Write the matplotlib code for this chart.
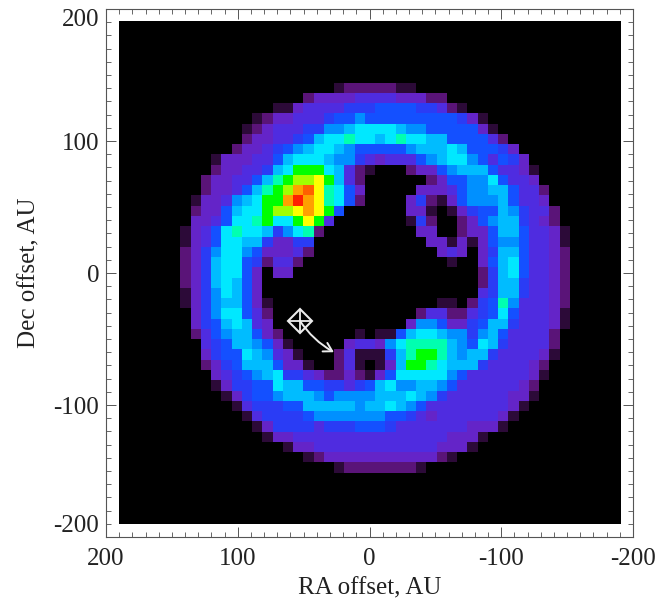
import numpy as np
import matplotlib
matplotlib.use("Agg")
import matplotlib.pyplot as plt
from matplotlib.colors import ListedColormap
from matplotlib.ticker import MultipleLocator

plt.rcParams['font.family'] = ['Liberation Serif', 'DejaVu Serif']

# intensity level of each map cell (rows 6-43 of the 49x49 map)
# left part is columns 6-24, right part columns 25-43
left_cells = [
    [0,0,0,0,0,0,0,0,0,0,0,0,0,0,0,1,2,2,2],
    [0,0,0,0,0,0,0,0,0,0,0,0,2,3,3,3,3,4,4],
    [0,0,0,0,0,0,0,0,0,1,1,3,4,4,4,4,5,5,5],
    [0,0,0,0,0,0,0,1,2,3,3,4,4,4,5,6,6,7,6],
    [0,0,0,0,0,0,1,2,3,4,4,4,5,5,7,7,8,9,9],
    [0,0,0,0,0,0,2,3,3,4,4,5,6,8,9,9,10,9,9],
    [0,0,0,0,0,2,3,3,4,5,6,7,8,9,9,8,7,6,6],
    [0,0,0,1,3,3,3,4,4,6,8,9,9,9,8,7,7,5,4],
    [0,0,0,2,3,3,4,4,5,8,9,11,11,11,9,8,4,2,1],
    [0,0,2,3,3,4,4,6,8,10,11,12,12,13,11,8,4,2,0],
    [0,0,2,3,3,4,6,8,10,11,12,14,15,13,10,9,6,3,0],
    [0,1,3,3,4,7,8,9,11,11,14,16,14,13,10,9,6,2,0],
    [0,2,3,3,6,8,9,9,11,12,12,13,14,13,11,6,0,0,0],
    [0,3,3,4,6,9,9,10,11,9,9,11,13,11,4,0,0,0,0],
    [1,3,4,6,9,10,9,9,8,5,7,9,10,2,0,0,0,0,0],
    [1,3,4,6,9,9,8,8,5,3,3,5,5,0,0,0,0,0,0],
    [2,3,5,7,9,9,7,6,3,3,3,4,2,0,0,0,0,0,0],
    [2,3,5,8,9,9,6,5,2,4,4,2,0,0,0,0,0,0,0],
    [2,3,5,8,9,9,6,3,0,3,3,0,0,0,0,0,0,0,0],
    [2,3,5,8,9,8,6,3,0,0,0,0,0,0,0,0,0,0,0],
    [1,3,5,7,9,8,6,3,0,0,0,0,0,0,0,0,0,0,0],
    [1,3,5,7,8,8,6,3,1,0,0,0,0,0,0,0,0,0,0],
    [0,3,5,7,9,9,6,4,2,0,0,0,0,0,0,0,0,0,0],
    [0,3,5,6,8,9,8,4,3,0,0,0,0,0,0,0,0,0,0],
    [0,2,4,6,7,8,8,6,3,2,0,0,0,0,0,0,0,1,0],
    [0,0,4,5,6,8,8,7,6,3,1,0,0,0,0,0,3,4,4],
    [0,0,3,5,6,6,9,8,7,4,3,1,0,0,0,2,4,1,1],
    [0,0,2,3,5,6,8,8,8,6,3,3,1,0,0,2,4,1,0],
    [0,0,0,3,4,5,6,7,8,9,5,5,4,3,2,2,3,2,1],
    [0,0,0,1,3,5,5,6,6,9,8,8,6,6,5,5,4,5,6],
    [0,0,0,0,1,3,5,6,6,7,8,8,8,7,6,7,7,7,7],
    [0,0,0,0,0,1,4,5,5,5,6,6,8,8,8,8,8,7,8],
    [0,0,0,0,0,0,1,4,5,5,5,5,6,7,7,7,7,7,7],
    [0,0,0,0,0,0,0,1,3,5,5,5,5,4,5,5,5,6,6],
    [0,0,0,0,0,0,0,0,1,3,3,4,4,4,4,4,4,4,4],
    [0,0,0,0,0,0,0,0,0,0,1,3,3,4,4,4,4,4,4],
    [0,0,0,0,0,0,0,0,0,0,0,0,1,2,3,3,3,3,3],
    [0,0,0,0,0,0,0,0,0,0,0,0,0,0,0,1,2,2,2],
]
right_cells = [
    [2,2,1,1,0,0,0,0,0,0,0,0,0,0,0,0,0,0,0],
    [4,4,3,3,3,2,2,0,0,0,0,0,0,0,0,0,0,0,0],
    [6,6,6,6,5,5,4,2,1,0,0,0,0,0,0,0,0,0,0],
    [6,6,6,6,6,6,6,6,5,3,1,0,0,0,0,0,0,0,0],
    [9,9,8,7,7,6,6,6,6,6,3,1,0,0,0,0,0,0,0],
    [8,9,10,9,9,8,8,6,6,6,6,4,2,0,0,0,0,0,0],
    [6,6,6,7,8,8,8,9,8,6,6,6,5,3,0,0,0,0,0],
    [3,4,4,4,6,7,8,9,9,7,6,4,6,5,3,0,0,0,0],
    [0,0,0,2,3,3,6,7,8,8,8,6,4,4,3,1,0,0,0],
    [0,0,0,0,0,2,3,6,6,7,7,9,6,4,4,3,0,0,0],
    [0,0,0,0,3,3,3,4,6,7,7,8,8,6,4,4,2,0,0],
    [0,0,0,3,5,2,1,3,6,7,7,7,8,6,4,4,3,0,0],
    [0,0,0,3,3,1,0,1,3,5,6,6,8,7,5,4,4,2,0],
    [0,0,0,1,5,2,0,0,2,3,6,7,8,8,5,4,3,2,0],
    [0,0,0,0,3,3,0,0,2,3,3,6,8,8,6,4,4,3,1],
    [0,0,0,0,0,3,3,1,3,1,3,6,7,7,6,4,4,3,1],
    [0,0,0,0,0,0,3,4,3,0,3,5,8,8,6,4,4,3,2],
    [0,0,0,0,0,0,0,1,0,0,3,6,8,9,6,4,4,3,2],
    [0,0,0,0,0,0,0,0,0,0,2,5,8,9,6,4,4,3,2],
    [0,0,0,0,0,0,0,0,0,0,2,5,8,8,5,4,4,3,2],
    [0,0,0,0,0,0,0,0,0,0,4,5,8,8,5,4,4,3,2],
    [0,0,0,0,0,0,1,1,0,2,5,6,10,7,4,4,4,3,2],
    [0,0,0,0,2,4,4,2,2,4,5,6,9,6,4,4,4,3,1],
    [0,0,0,3,7,7,6,3,3,5,6,8,8,5,4,4,4,3,1],
    [1,1,6,8,9,9,8,7,7,5,7,8,6,4,4,4,4,2,0],
    [3,7,9,10,10,10,10,8,7,6,9,8,5,4,4,4,4,2,0],
    [1,5,8,10,11,11,10,8,7,8,8,5,4,4,4,4,3,1,0],
    [1,3,8,11,11,10,9,8,8,8,5,4,4,4,4,3,2,0,0],
    [3,6,9,9,9,9,9,7,6,4,4,4,4,4,4,3,1,0,0],
    [8,9,7,7,8,8,7,6,4,4,4,4,4,4,3,2,0,0,0],
    [8,8,8,9,8,7,5,4,4,4,4,4,4,3,3,1,0,0,0],
    [8,9,8,7,6,4,4,4,4,4,4,4,4,3,1,0,0,0,0],
    [7,6,6,5,4,3,4,4,4,4,4,4,3,1,0,0,0,0,0],
    [6,5,4,4,4,4,4,4,4,3,3,3,1,0,0,0,0,0,0],
    [4,4,4,4,4,4,4,3,3,3,1,0,0,0,0,0,0,0,0],
    [4,4,4,4,4,4,3,3,3,1,0,0,0,0,0,0,0,0,0],
    [3,3,3,3,3,3,2,1,0,0,0,0,0,0,0,0,0,0,0],
    [2,2,2,2,1,0,0,0,0,0,0,0,0,0,0,0,0,0,0],
]
level_colors = [
    "#000000", "#2c0a38", "#5a1478", "#6424c8", "#4f2ce0", "#2a3cf5",
    "#1450ff", "#0090ff", "#00bcff", "#00e8ff", "#00ffb0", "#00ff00",
    "#a0ff00", "#ffff00", "#ffa000", "#ff6000", "#ff2000",
]
tick_values = [-200, -100, 0, 100, 200]
x_tick_labels = ["-200", "-100", "0", "100", "200"]
y_tick_labels = ["-200", "-100", "0", "100", "200"]

# star position and where the motion arrow ends, AU
star_ra, star_dec = 53, -36
arrow_ra, arrow_dec = 27, -60

grid = np.zeros((49, 49), dtype=int)
grid[6:44, 6:25] = np.array(left_cells)
grid[6:44, 25:44] = np.array(right_cells)

fig = plt.figure(figsize=(6.6, 6.03), dpi=100)
ax = fig.add_axes([106/660, 1-537/603, 527/660, 528/603])

cmap = ListedColormap(level_colors)
ax.imshow(grid, cmap=cmap, vmin=-0.5, vmax=16.5, origin="upper",
          extent=(190.5, -190.5, -190.5, 190.5), interpolation="nearest", aspect="auto")
ax.set_xlim(200, -200)
ax.set_ylim(-200, 200)

ax.set_xticks(tick_values)
ax.set_xticklabels(x_tick_labels)
ax.set_yticks(tick_values)
ax.set_yticklabels(y_tick_labels)
ax.xaxis.set_minor_locator(MultipleLocator(10))
ax.yaxis.set_minor_locator(MultipleLocator(10))
ax.tick_params(which="major", direction="in", length=7.5, width=0.7, color="#555555",
               top=True, right=True, labelsize=18, labelcolor="#222222")
ax.tick_params(which="minor", direction="in", length=3.6, width=0.7, color="#666666",
               top=True, right=True)
ax.tick_params(axis="x", which="major", pad=8)
ax.tick_params(axis="y", which="major", pad=5)
for spine in ax.spines.values():
    spine.set_linewidth(0.8)
    spine.set_color("#555555")

ylabels = ax.get_yticklabels()
ylabels[0].set_va("bottom")
ylabels[-1].set_va("top")

ax.set_xlabel("RA offset, AU", fontsize=18, color="#222222", labelpad=5)
ax.set_ylabel("Dec offset, AU", fontsize=18, color="#222222", labelpad=9)

ax.plot(star_ra, star_dec, marker="D", ms=12.4, mfc="none", mec="#ececec", mew=1.5)
ax.plot(star_ra, star_dec, marker="+", ms=17, mec="#ececec", mew=1.3)
ax.annotate("", xy=(arrow_ra, arrow_dec), xytext=(star_ra, star_dec),
            arrowprops=dict(arrowstyle="->,head_length=0.6,head_width=0.35", color="#ececec",
                            lw=1.4, shrinkA=0, shrinkB=0,
                            connectionstyle="arc3,rad=0.12"))

fig.savefig("out.png", dpi=100)
plt.close()
